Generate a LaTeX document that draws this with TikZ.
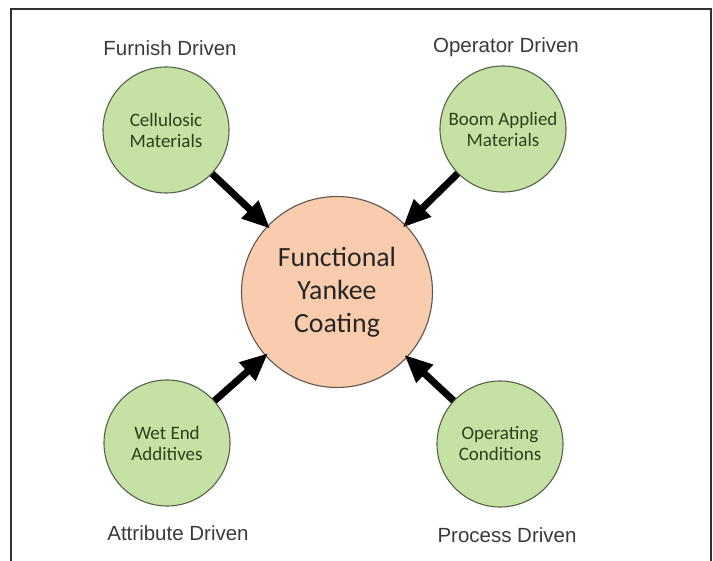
\documentclass[tikz,border=0pt]{standalone}
\usepackage{fontspec}
\setmainfont{Liberation Sans}
\newfontfamily\carl{Carlito}
\usetikzlibrary{arrows.meta}
\definecolor{greenfill}{RGB}{197,225,163}
\definecolor{greenline}{RGB}{85,100,75}
\definecolor{greentext}{RGB}{42,66,28}
\definecolor{peach}{RGB}{249,204,173}
\definecolor{peachline}{RGB}{95,85,80}
\definecolor{labeltext}{RGB}{58,58,58}
\definecolor{frame}{RGB}{50,50,50}
\tikzset{
  source/.style={circle, draw=greenline, line width=1.1pt, fill=greenfill,
    minimum size=126pt, inner sep=0pt, align=center, text=greentext,
    font=\carl\fontsize{19}{21}\selectfont},
  hub/.style={circle, draw=peachline, line width=1.1pt, fill=peach,
    minimum size=191pt, inner sep=0pt, align=center, text=black!85,
    font=\carl\fontsize{27.8}{33}\selectfont},
  caption/.style={text=labeltext, font=\fontsize{20.5}{24}\selectfont, inner sep=0pt},
  flow/.style={line width=7pt, -{Triangle[length=28pt,width=23pt]}, shorten >=-4pt}
}
\begin{document}
\begin{tikzpicture}[x=1pt,y=-1pt]
\useasboundingbox (0,0) rectangle (713,561);
\draw[frame, line width=2pt] (11,561) -- (11,9) -- (711,9) -- (711,561);

\node[hub] (hub) at (337,292) {Functional\\Yankee\\Coating};
\node[source] (cell) at (166,130) {Cellulosic\\Materials};
\node[source] (boom) at (503,129) {Boom Applied\\Materials};
\node[source] (wet) at (167,443) {Wet End\\Additives};
\node[source] (oper) at (500,444) {Operating\\Conditions};

\node[caption] (l1) at (170,48) {Furnish Driven};
\node[caption] (l2) at (506,47) {Operator Driven};
\node[caption] (l3) at (178,533) {Attribute Driven};
\node[caption] (l4) at (507,535) {Process Driven};

\draw[flow] (cell) -- (hub);
\draw[flow] (boom) -- (hub);
\draw[flow] (wet) -- (hub);
\draw[flow] (oper) -- (hub);
\end{tikzpicture}
\end{document}
